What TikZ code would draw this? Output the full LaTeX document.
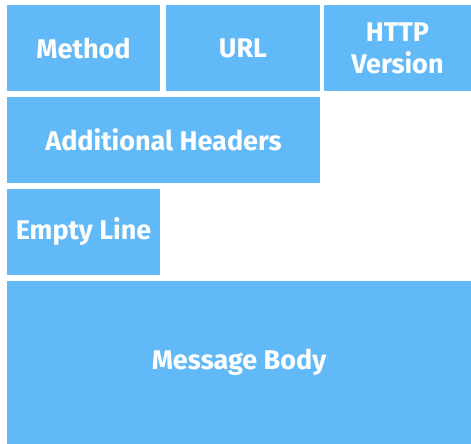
\documentclass[tikz,border=0pt]{standalone}
\usepackage{fontspec}
\setmainfont{Fira Sans}
\definecolor{fieldblue}{RGB}{98,185,247}
\begin{document}
\begin{tikzpicture}[
        x=1pt, y=-1pt,
        field/.style={rectangle, fill=fieldblue, draw=none, inner sep=0pt, minimum height=86pt, text=white, align=center, font=\fontsize{27}{32}\selectfont\bfseries},
    ]
        \useasboundingbox (0,0) rectangle (471,444);

        % Request line
        \node[field, minimum width=153pt] (method) at (83.5,48) {Method};
        \node[field, minimum width=154pt] (url) at (243,48) {URL};
        \node[field, minimum width=147pt] (version) at (397.5,48) {HTTP\\Version};

        % Headers and separator
        \node[field, minimum width=313pt] (headers) at (163.5,140) {Additional Headers};
        \node[field, minimum width=153pt] (emptyline) at (83.5,232) {Empty Line};

        % Body
        \node[field, minimum width=464pt, minimum height=163pt] (body) at (239,362.5) {Message Body};

    \end{tikzpicture}
\end{document}
